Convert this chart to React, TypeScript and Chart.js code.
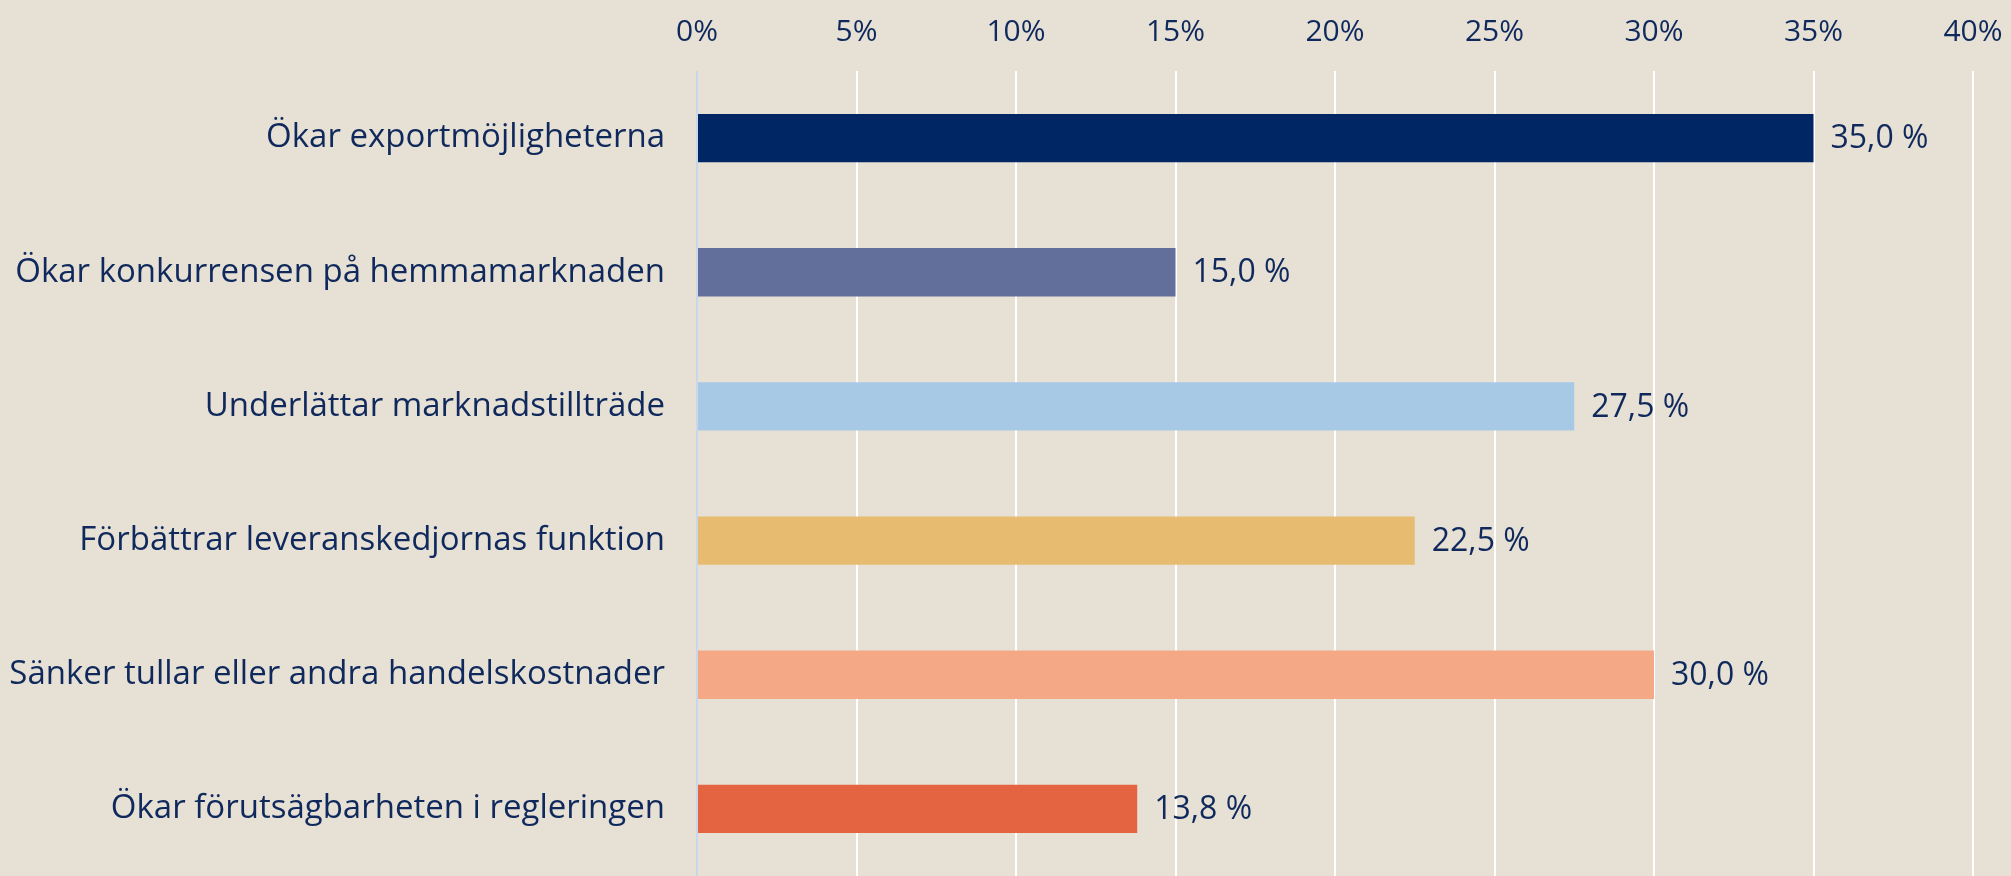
import React, { useEffect, useRef } from "react";
import { Chart, registerables } from "chart.js";

Chart.register(...registerables);

const categories = [
  "Ökar exportmöjligheterna",
  "Ökar konkurrensen på hemmamarknaden",
  "Underlättar marknadstillträde",
  "Förbättrar leveranskedjornas funktion",
  "Sänker tullar eller andra handelskostnader",
  "Ökar förutsägbarheten i regleringen",
];
const values = [35.0, 15.0, 27.5, 22.5, 30.0, 13.8];
const barColors = ["#002663", "#626f9b", "#a7c9e6", "#e7bb70", "#f4a886", "#e46442"];
const xTicks = [0, 5, 10, 15, 20, 25, 30, 35, 40];

const TEXT = "#10295c";
const FONT = "'Open Sans', sans-serif";

const dataLabels = {
  id: "dataLabels",
  afterDatasetsDraw(chart: any) {
    const ctx = chart.ctx;
    const meta = chart.getDatasetMeta(0);
    ctx.save();
    ctx.fillStyle = TEXT;
    ctx.font = `32px ${FONT}`;
    ctx.textAlign = "left";
    ctx.textBaseline = "middle";
    meta.data.forEach((bar: any, i: number) => {
      const v = values[i];
      ctx.fillText(v.toFixed(1).replace(".", ",") + " %", bar.x + 17, bar.y + 1);
    });
    ctx.restore();
  },
};

export default function App() {
  const ref = useRef<HTMLCanvasElement>(null);
  useEffect(() => {
    document.body.style.margin = "0";
    document.body.style.background = "#e7e1d5";
    const chart = new Chart(ref.current!, {
      type: "bar",
      data: {
        labels: categories,
        datasets: [
          {
            data: values,
            backgroundColor: barColors,
            barPercentage: 0.36,
            categoryPercentage: 1,
          },
        ],
      },
      options: {
        indexAxis: "y",
        animation: false,
        responsive: false,
        maintainAspectRatio: false,
        layout: { padding: { left: 0, right: 38, top: 0, bottom: 0 } },
        plugins: { legend: { display: false }, tooltip: { enabled: false } },
        scales: {
          x: {
            position: "top",
            min: 0,
            max: 40,
            afterBuildTicks: (scale: any) => {
              scale.ticks = xTicks.map((v) => ({ value: v }));
            },
            afterFit: (scale: any) => {
              scale.height = 71;
              scale.paddingLeft = 0;
              scale.paddingRight = 0;
            },
            ticks: {
              color: TEXT,
              font: { family: FONT, size: 30 },
              padding: 21,
              callback: (v: any) => v + "%",
            },
            grid: {
              color: (c: any) => (c.tick && c.tick.value === 0 ? "#c8d7ea" : "#ffffff"),
              lineWidth: 2,
              drawTicks: false,
            },
            border: { display: false },
          },
          y: {
            afterFit: (scale: any) => {
              scale.width = 697;
              scale.paddingTop = 0;
              scale.paddingBottom = 0;
            },
            ticks: {
              color: TEXT,
              font: { family: FONT, size: 33 },
              padding: 24,
            },
            grid: { display: false },
            border: { display: false },
          },
        },
      },
      plugins: [dataLabels],
    });
    return () => chart.destroy();
  }, []);
  return (
    <div style={{ width: 2011, height: 876, background: "#e7e1d5" }}>
      <canvas ref={ref} width={2011} height={876} style={{ display: "block" }} />
    </div>
  );
}
